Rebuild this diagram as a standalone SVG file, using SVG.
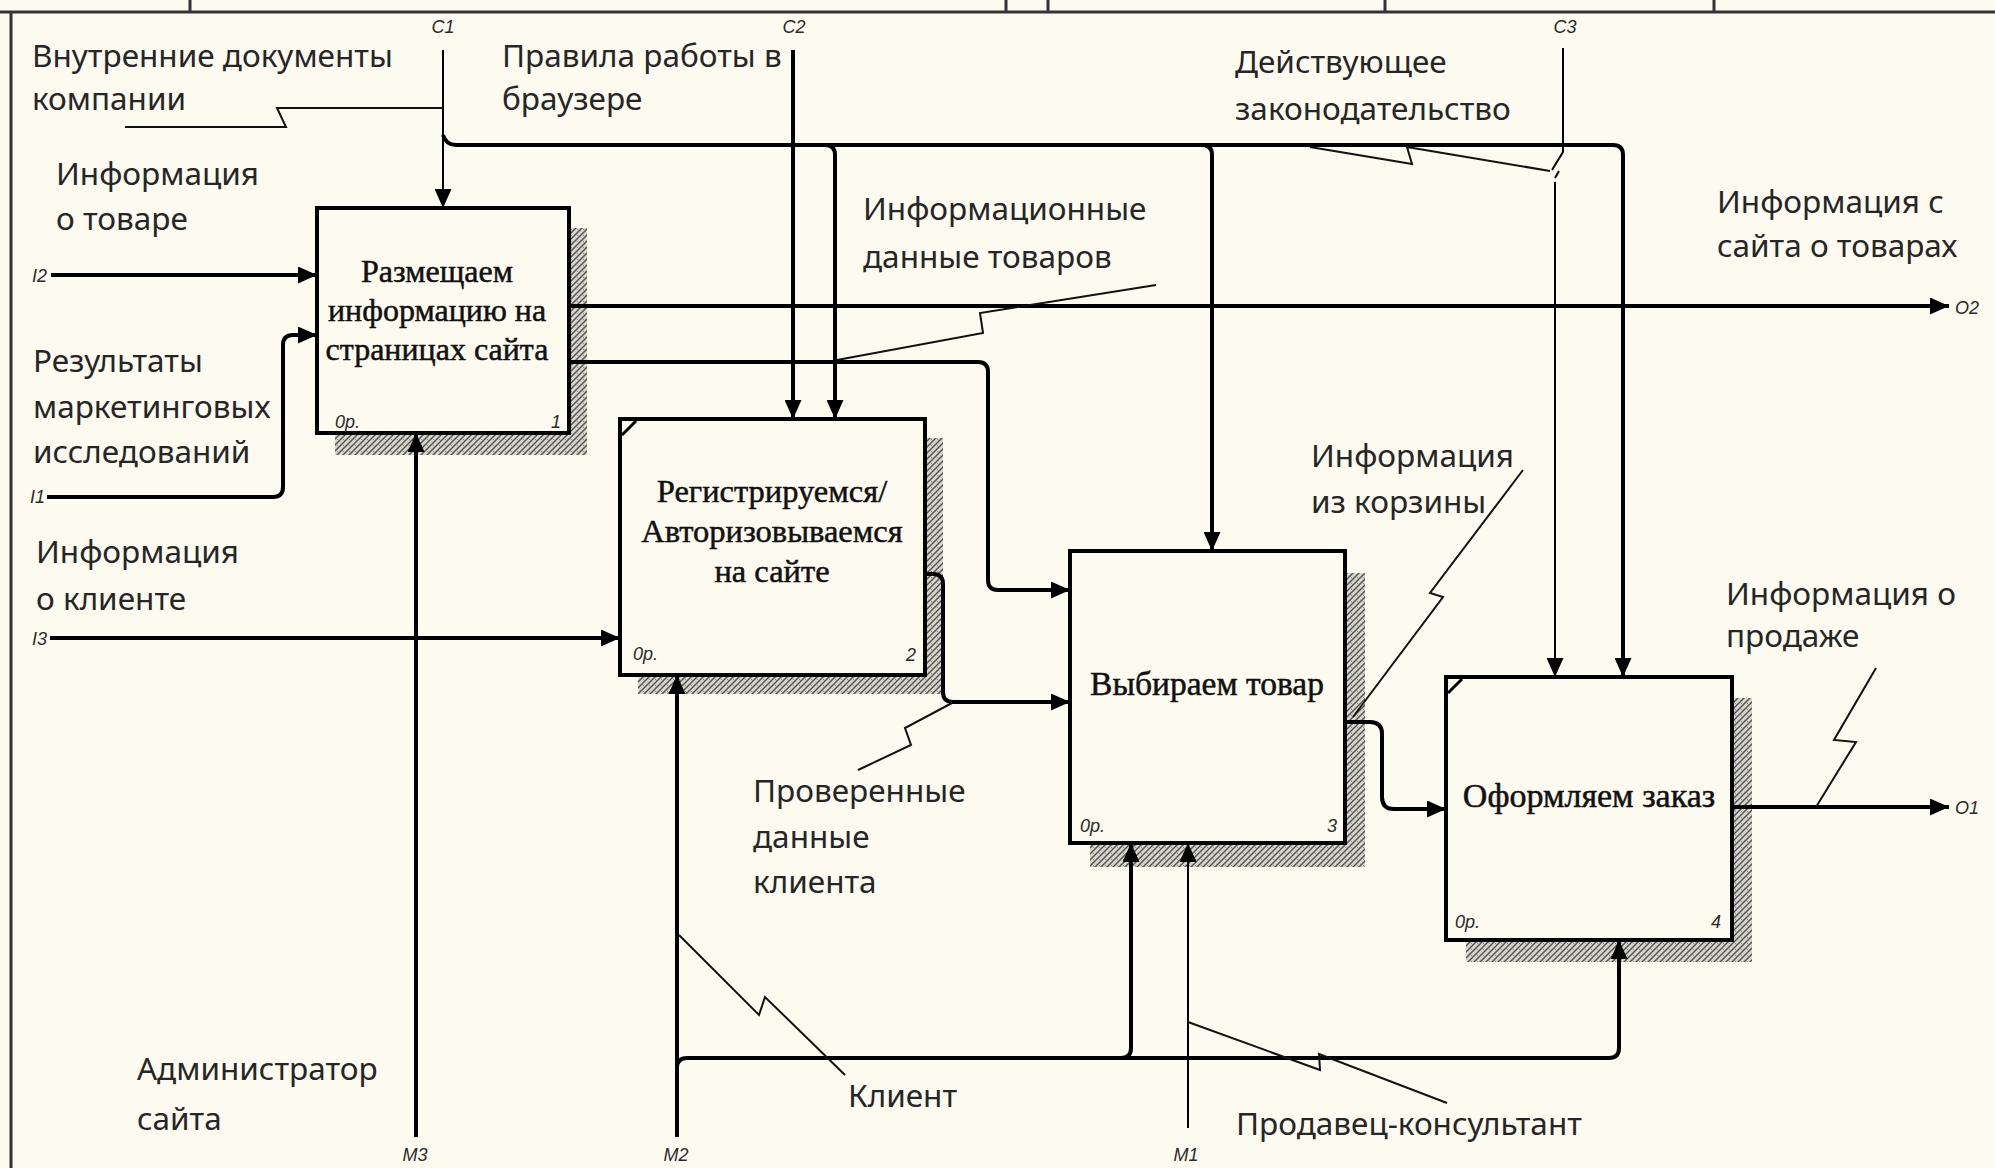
<svg xmlns="http://www.w3.org/2000/svg" width="1995" height="1168" viewBox="0 0 1995 1168">
<defs>
<style>
.lbl{font-family:"Noto Sans","Liberation Sans",sans-serif;font-size:31.5px;fill:#262626}
.box{fill:#fdfaf0;stroke:#000;stroke-width:4}
.shadow{fill:url(#hatch)}
.bt{font-family:"Liberation Serif",serif;font-size:32px;fill:#111;stroke:#111;stroke-width:0.5;text-anchor:middle}
.sm{font-family:"Liberation Sans",sans-serif;font-size:18px;font-style:italic;fill:#2a2a2a}
.arr{fill:none;stroke:#000;stroke-width:4;marker-end:url(#ah)}
.arrt{fill:none;stroke:#000;stroke-width:2;marker-end:url(#ah)}
.thin{fill:none;stroke:#000;stroke-width:2}
.sq{fill:none;stroke:#111;stroke-width:2}
.frame{fill:none;stroke:#333;stroke-width:3}
</style>
<pattern id="hatch" width="6" height="6" patternUnits="userSpaceOnUse"><rect width="6" height="6" fill="#d9d6cc"/><path d="M0,6 L6,0 M-1,1 L1,-1 M5,7 L7,5" stroke="#555" stroke-width="1.5"/><path d="M0,0 L3,3" stroke="#888" stroke-width="1"/></pattern>
<marker id="ah" viewBox="0 0 19 17" refX="19" refY="8.5" markerWidth="19" markerHeight="17" orient="auto" markerUnits="userSpaceOnUse"><path d="M0,0 L19,8.5 L0,17 z" fill="#000"/></marker>
</defs>
<rect width="1995" height="1168" fill="#fdfaf0"/>
<g id="frame">
<path class="frame" d="M0,12 H1995 M11,12 V1168 M190,0 V12 M1006,0 V12 M1048,0 V12 M1385,0 V12 M1714,0 V12"/>
</g>

<g id="node1">
<rect class="shadow" x="335" y="228" width="252" height="227"/>
<rect class="box" x="317" y="208" width="252" height="225"/>
<text class="bt" x="437" y="282">Размещаем</text>
<text class="bt" x="437" y="321">информацию на</text>
<text class="bt" x="437" y="360">страницах сайта</text>
<text class="sm" x="335" y="428">0р.</text>
<text class="sm" x="561" y="428" text-anchor="end">1</text>
</g>

<g id="node2">
<rect class="shadow" x="638" y="438" width="305" height="256"/>
<rect class="box" x="620" y="419" width="305" height="256"/>
<path d="M622,435 L636,421" stroke="#000" stroke-width="3"/>
<text class="bt" x="772" y="502" style="font-size:32.5px">Регистрируемся/</text>
<text class="bt" x="772" y="542" style="font-size:32.5px">Авторизовываемся</text>
<text class="bt" x="772" y="582" style="font-size:32.5px">на сайте</text>
<text class="sm" x="633" y="660">0р.</text>
<text class="sm" x="916" y="661" text-anchor="end">2</text>
</g>

<g id="node3">
<rect class="shadow" x="1090" y="573" width="275" height="294"/>
<rect class="box" x="1070" y="551" width="275" height="292"/>
<text class="bt" x="1207" y="695" style="font-size:33.5px">Выбираем товар</text>
<text class="sm" x="1080" y="832">0р.</text>
<text class="sm" x="1337" y="832" text-anchor="end">3</text>
</g>

<g id="node4">
<rect class="shadow" x="1466" y="698" width="286" height="264"/>
<rect class="box" x="1446" y="677" width="286" height="263"/>
<path d="M1448,693 L1462,679" stroke="#000" stroke-width="3"/>
<text class="bt" x="1589" y="807" style="font-size:34px">Оформляем заказ</text>
<text class="sm" x="1455" y="928">0р.</text>
<text class="sm" x="1721" y="928" text-anchor="end">4</text>
</g>

<g id="connectors">
<path class="arrt" d="M443,50 V208"/>
<path class="arr" d="M443,135 Q446,145 456,145 H1613 Q1623,145 1623,155 V677"/>
<path class="arr" d="M825,145 Q835,145 835,155 V419"/>
<path class="arr" d="M1202,145 Q1212,145 1212,155 V551"/>
<path class="arr" d="M793,50 V419"/>
<path class="thin" d="M1563,48 V152 L1552,170 M1559,171 L1555,178"/>
<path class="arrt" d="M1555,182 V677"/>
<path class="arr" d="M51,275 H317"/>
<path class="arr" d="M47,497 H273 Q283,497 283,487 V345 Q283,335 293,335 H317"/>
<path class="arr" d="M50,638 H620"/>
<path class="arr" d="M416,1137 V433"/>
<path class="arr" d="M677,1137 V675"/>
<path class="arr" d="M677,1068 Q677,1058 687,1058 H1609 Q1619,1058 1619,1048 V940"/>
<path class="arr" d="M1121,1058 Q1131,1058 1131,1048 V843"/>
<path class="arrt" d="M1188,1128 V843"/>
<path class="arr" d="M569,306 H1949"/>
<path class="arr" d="M569,362 H978 Q988,362 988,372 V580 Q988,590 998,590 H1070"/>
<path class="arr" d="M925,574 H933 Q943,574 943,584 V692 Q943,702 953,702 H1070"/>
<path class="arr" d="M1345,722 H1370 Q1382,722 1382,734 V797 Q1382,809 1394,809 H1446"/>
<path class="arr" d="M1732,807 H1949"/>
<path class="sq" d="M125,127 H286 L277,108 H443"/>
<path class="sq" d="M1156,285 L980,313 L983,333 L837,360"/>
<path class="sq" d="M858,770 L911,745 L905,728 L952,703"/>
<path class="sq" d="M679,935 L759,1015 L765,997 L845,1075"/>
<path class="sq" d="M1188,1022 L1320,1070 L1319,1054 L1447,1103"/>
<path class="sq" d="M1310,147 L1412,164 L1407,147 L1550,171"/>
<path class="sq" d="M1523,470 L1430,593 L1443,597 L1353,717"/>
<path class="sq" d="M1876,668 L1834,740 L1856,742 L1816,807"/>
</g>

<g id="labels">
<text class="sm" x="443" y="33" text-anchor="middle">C1</text>
<text class="sm" x="794" y="33" text-anchor="middle">C2</text>
<text class="sm" x="1565" y="33" text-anchor="middle">C3</text>
<text class="sm" x="47" y="282" text-anchor="end">I2</text>
<text class="sm" x="45" y="503" text-anchor="end">I1</text>
<text class="sm" x="47" y="645" text-anchor="end">I3</text>
<text class="sm" x="1955" y="314">O2</text>
<text class="sm" x="1955" y="814">O1</text>
<text class="sm" x="415" y="1161" text-anchor="middle">M3</text>
<text class="sm" x="676" y="1161" text-anchor="middle">M2</text>
<text class="sm" x="1186" y="1161" text-anchor="middle">M1</text>

<text class="lbl" x="32" y="67">Внутренние документы</text>
<text class="lbl" x="32" y="110">компании</text>
<text class="lbl" x="502" y="67">Правила работы в</text>
<text class="lbl" x="502" y="110">браузере</text>
<text class="lbl" x="56" y="185">Информация</text>
<text class="lbl" x="56" y="230">о товаре</text>
<text class="lbl" x="33" y="372">Результаты</text>
<text class="lbl" x="33" y="418">маркетинговых</text>
<text class="lbl" x="33" y="463">исследований</text>
<text class="lbl" x="36" y="563">Информация</text>
<text class="lbl" x="36" y="610">о клиенте</text>
<text class="lbl" x="137" y="1080">Администратор</text>
<text class="lbl" x="137" y="1130">сайта</text>
<text class="lbl" x="753" y="802">Проверенные</text>
<text class="lbl" x="753" y="848">данные</text>
<text class="lbl" x="753" y="893">клиента</text>
<text class="lbl" x="848" y="1107">Клиент</text>
<text class="lbl" x="1236" y="1135">Продавец-консультант</text>
<text class="lbl" x="863" y="220">Информационные</text>
<text class="lbl" x="863" y="268">данные товаров</text>
<text class="lbl" x="1235" y="73">Действующее</text>
<text class="lbl" x="1235" y="120">законодательство</text>
<text class="lbl" x="1717" y="213">Информация с</text>
<text class="lbl" x="1717" y="257">сайта о товарах</text>
<text class="lbl" x="1311" y="467">Информация</text>
<text class="lbl" x="1311" y="513">из корзины</text>
<text class="lbl" x="1726" y="605">Информация о</text>
<text class="lbl" x="1726" y="647">продаже</text>
</g>
</svg>
